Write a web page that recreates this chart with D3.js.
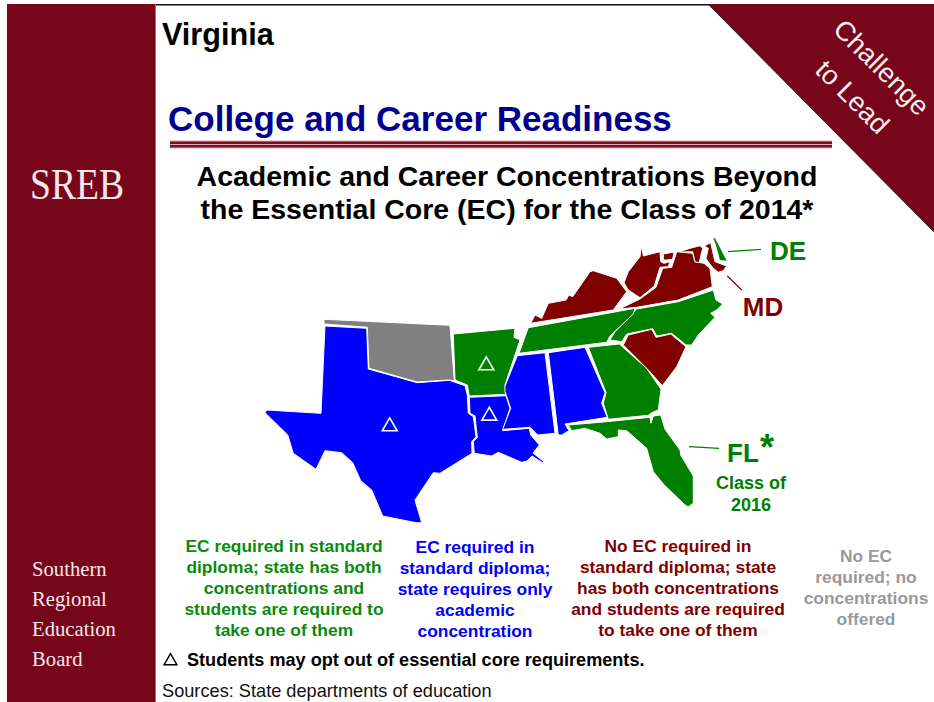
<!DOCTYPE html>
<html>
<head>
<meta charset="utf-8">
<title>Academic and Career Concentrations</title>
<script src="https://cdn.jsdelivr.net/npm/d3@7"></script>
<style>
    html, body { margin: 0; padding: 0; background: #fff; }
    svg { display: block; }
    text { font-family: "Liberation Sans", Arial, sans-serif; }
    .serif { font-family: "Liberation Serif", serif; }
</style>
</head>
<body>
<div id="slide"></div>
<script>
// State outlines, one ring per part
const texas = [[325,326],[366.7,328.3],[368.3,369],[417.3,382.7],[449.3,380.3],[465,385.7],[467.3,395],[468.3,413.3],[473.3,416.7],[476,436.7],[471.7,441.7],[472,453.3],[440,473.3],[433.3,472.7],[415,500],[421.7,522.7],[416,522.7],[382.7,516],[371.7,490],[360.7,480.7],[352.7,462.7],[341.7,452.7],[325,450.7],[316,469.3],[293.3,453.3],[287.7,435],[265,412.7],[266.7,410],[321,413.3]];
const oklahoma = [[324,319.3],[450,325.3],[454.3,380.7],[448.3,380],[417.3,382],[369,368.3],[367.3,327.3],[324,324]];
const arkansas = [[453.3,334],[515,328.3],[514,337.3],[520,340],[505,385],[506.7,394.3],[469.3,396],[467.3,385],[455,380]];
const louisiana = [[469.3,397.3],[506,395.7],[510,408.3],[502.7,430.7],[529.3,428.3],[530.7,435],[539.3,445],[533,453],[544.3,462],[543,463],[532,456],[527,461],[521.7,462.3],[498.3,452.3],[491.7,456],[474.3,453.3],[473.3,441.7],[477.3,437.3],[475,416],[470,413.3]];
const mississippi = [[517.3,355.7],[545,352.7],[555,433.3],[537.7,435],[530,427.3],[502.7,429.3],[510.7,408.3],[505,391.7],[505,386]];
const alabama = [[548.3,352.7],[585,347.3],[605,392.7],[601.7,403.3],[607.3,417.3],[565,424],[569,430.7],[561.7,435],[558.3,435]];
const georgia = [[588.3,347.3],[619.3,344],[646.7,368.3],[661,389.3],[658.3,410],[651.7,412.7],[648.3,415.3],[608.3,419.3],[603.3,403.3],[606,392.7]];
const florida = [[568.3,425],[606.7,421.7],[650,417.3],[651,423.3],[653.3,416],[660.7,415],[665,429.3],[680,450],[680.7,455],[693.3,476],[693.3,503.3],[688.3,506.7],[685,505],[663.3,484],[653.3,471.7],[646.7,448.3],[626.7,430.7],[618.3,430],[618.3,436.7],[606.7,439],[600,433.3],[585,428.3],[571.7,430.7]];
const southCarolina = [[623.3,345],[628.3,335],[651.7,329.3],[656,337.3],[670.7,334],[686,346.7],[676.7,366.7],[662.3,385.7],[648.3,370]];
const northCarolina = [[636.7,309],[678.3,301.7],[713.3,290],[716,300],[722.7,304],[716.7,310],[710.7,313.3],[715,317.3],[698.3,335],[691.7,345],[686,345],[671.7,333.3],[656.7,336],[652.7,328.7],[626.7,334],[621.7,341.7],[610,340],[615,331.7]];
const tennessee = [[528.3,327.7],[635,308.3],[633.3,314],[610,336],[606.7,342.3],[519,353.3]];
const kentucky = [[530.7,323.3],[535,315],[541.7,318.3],[548.3,303.3],[566,300],[569,295],[572.7,296.7],[590,271.7],[593.3,270.7],[616.7,278.3],[626.7,291.7],[613.3,310]];
const westVirginia = [[624,282.7],[628.3,271.7],[640,256.7],[641.7,245],[643.3,256],[660,251.7],[660.7,261.7],[664,263.3],[670,261.7],[668.3,266.7],[660,267.3],[654.3,286],[640,297.7],[628.3,290]];
const virginia = [[619.3,309],[640,299],[656,287.3],[662.7,268.3],[671.7,267.3],[676.7,251.7],[692.7,253.3],[695,261.7],[704,263.3],[710,268.3],[712.3,286.7],[678.3,300],[636.7,307.3]];
const marylandWest = [[663.3,254],[674,252],[672.7,259.3],[666.7,260],[663.3,260]];
const marylandCentral = [[678.3,250.7],[682.7,250.7],[690,248.3],[700,245.7],[702.7,248.3],[701,255],[699.3,262.7],[695,261.7],[692.7,251.7],[682.7,252]];
const marylandEast = [[704,246],[710.7,242.7],[715,261.7],[726.7,266],[723.3,270.7],[718.3,272.3],[713.3,268.3],[709.3,263.3],[706,258.3],[708.3,248.3]];
const delaware = [[713.3,238.3],[715,238.3],[726.7,260.7],[720,260],[716,245]];

// category: 0 green, 1 blue, 2 dark red, 3 gray
const stateNames = ['TX','OK','AR','LA','MS','AL','GA','FL','SC','NC','TN','KY','WV','VA','MD','DE'];
const stateCategory = [1,3,0,1,1,1,0,0,2,0,0,2,2,2,2,0];
const stateRings = [[texas],[oklahoma],[arkansas],[louisiana],[mississippi],[alabama],[georgia],[florida],[southCarolina],[northCarolina],[tennessee],[kentucky],[westVirginia],[virginia],[marylandWest,marylandCentral,marylandEast],[delaware]];
const categoryColors = ['#008000','#0000ff','#800000','#808080'];
const legendColors = ['#0a8a0a','#0000ff','#800000','#999999'];

const optOutPoints = [[389.7,426.5],[486.3,365.5],[489.3,415.8]];

const legendLines = [
    ['EC required in standard','diploma; state has both','concentrations and','students are required to','take one of them'],
    ['EC required in','standard diploma;','state requires only','academic','concentration'],
    ['No EC required in','standard diploma; state','has both concentrations','and students are required','to take one of them'],
    ['No EC','required; no','concentrations','offered']
];
const legendCenters = [284, 475, 678, 866];
const legendTops = [552, 553, 552, 562];

const titleLines = ['Academic and Career Concentrations Beyond','the Essential Core (EC) for the Class of 2014*'];
const boardLines = ['Southern','Regional','Education','Board'];

const width = 934, height = 702;
const maroon = '#78061a';

const svg = d3.select('#slide').append('svg')
    .attr('width', width)
    .attr('height', height)
    .attr('viewBox', `0 0 ${width} ${height}`);

// Slide frame
svg.append('rect').attr('x', 7).attr('y', 4).attr('width', 148).attr('height', 698).attr('fill', maroon);
svg.append('rect').attr('x', 155).attr('y', 4).attr('width', 1).attr('height', 698).attr('fill', '#b56a76');
svg.append('rect').attr('x', 156).attr('y', 4).attr('width', 778).attr('height', 1.5).attr('fill', '#111');

svg.append('path')
    .attr('d', d3.line()([[708,4],[934,4],[934,232]]) + 'Z')
    .attr('fill', maroon);
svg.append('path')
    .attr('d', d3.line()([[708,4],[934,232]]))
    .attr('stroke', '#222')
    .attr('fill', 'none');

svg.append('text')
    .attr('transform', 'translate(880,69) rotate(45)')
    .attr('text-anchor', 'middle').attr('dominant-baseline', 'middle')
    .attr('font-size', 27.2).attr('fill', '#fbeef0')
    .text('Challenge');
svg.append('text')
    .attr('transform', 'translate(851,98.5) rotate(45)')
    .attr('text-anchor', 'middle').attr('dominant-baseline', 'middle')
    .attr('font-size', 27.2).attr('fill', '#fbeef0')
    .text('to Lead');

// Sidebar
svg.append('text').attr('class', 'serif')
    .attr('x', 30).attr('y', 199)
    .attr('font-size', 44).attr('fill', '#f5e8ea')
    .attr('textLength', 94).attr('lengthAdjust', 'spacingAndGlyphs')
    .text('SREB');
svg.append('g').selectAll('text')
    .data(boardLines)
    .join('text')
    .attr('class', 'serif')
    .attr('x', 32)
    .attr('y', (d, i) => 576 + i * 30)
    .attr('font-size', 20.7)
    .attr('fill', '#f5e8ea')
    .text(d => d);

// Headings
svg.append('text').attr('x', 162).attr('y', 45)
    .attr('font-size', 30.6).attr('font-weight', 'bold').attr('fill', '#000')
    .text('Virginia');
svg.append('text').attr('x', 168).attr('y', 131)
    .attr('font-size', 35).attr('font-weight', 'bold').attr('fill', '#00008f')
    .text('College and Career Readiness');

svg.append('rect').attr('x', 170).attr('y', 140.5).attr('width', 662).attr('height', 8).attr('fill', '#d4a9b0');
svg.append('rect').attr('x', 170).attr('y', 141.5).attr('width', 662).attr('height', 2.5).attr('fill', '#7d1020');
svg.append('rect').attr('x', 170).attr('y', 145).attr('width', 662).attr('height', 2.5).attr('fill', '#7d1020');

svg.append('g').selectAll('text')
    .data(titleLines)
    .join('text')
    .attr('x', 507)
    .attr('y', (d, i) => 186 + i * 33)
    .attr('text-anchor', 'middle')
    .attr('font-size', 28.5)
    .attr('font-weight', 'bold')
    .attr('fill', '#000')
    .text(d => d);

// Map
const features = stateNames.map((name, i) => ({
    type: 'Feature',
    properties: { name: name, category: stateCategory[i] },
    geometry: { type: 'MultiPolygon', coordinates: stateRings[i].map(ring => [ring.concat([ring[0]])]) }
}));
const collection = { type: 'FeatureCollection', features: features };
const projection = d3.geoIdentity().fitExtent([[265, 238.3], [726.7, 522.7]], collection);
const path = d3.geoPath(projection);

// thin white edge widens the gaps left by the traced outlines; DE is too narrow for it
svg.append('g').attr('class', 'states').selectAll('path')
    .data(features)
    .join('path')
    .attr('d', path)
    .attr('fill', d => categoryColors[d.properties.category])
    .attr('stroke', d => d.properties.name === 'DE' ? 'none' : '#fff')
    .attr('stroke-width', 1)
    .attr('stroke-linejoin', 'round');

const triangle = d3.symbol().type(d3.symbolTriangle).size(95);
svg.append('g').selectAll('path')
    .data(optOutPoints)
    .join('path')
    .attr('transform', d => `translate(${projection(d)})`)
    .attr('d', triangle)
    .attr('fill', 'none')
    .attr('stroke', '#fff')
    .attr('stroke-width', 1.6);

// Leader lines and state labels
const leaders = [
    { from: [728,251.7], to: [761,249.3], color: categoryColors[0] },
    { from: [727.3,276], to: [741.7,290], color: categoryColors[2] },
    { from: [689,446.7], to: [719,448.3], color: categoryColors[0] }
];
svg.append('g').selectAll('line')
    .data(leaders)
    .join('line')
    .attr('x1', d => d.from[0]).attr('y1', d => d.from[1])
    .attr('x2', d => d.to[0]).attr('y2', d => d.to[1])
    .attr('stroke', d => d.color)
    .attr('stroke-width', 1.2);

const labels = [
    { text: 'DE', x: 788, y: 260, size: 26, color: categoryColors[0] },
    { text: 'MD', x: 763, y: 316, size: 26, color: categoryColors[2] },
    { text: 'FL', x: 743, y: 462, size: 26, color: categoryColors[0] },
    { text: '*', x: 767, y: 460, size: 36, color: categoryColors[0] },
    { text: 'Class of', x: 751, y: 489, size: 18, color: categoryColors[0] },
    { text: '2016', x: 751, y: 511, size: 18, color: categoryColors[0] }
];
svg.append('g').selectAll('text')
    .data(labels)
    .join('text')
    .attr('x', d => d.x).attr('y', d => d.y)
    .attr('text-anchor', 'middle')
    .attr('font-size', d => d.size)
    .attr('font-weight', 'bold')
    .attr('fill', d => d.color)
    .text(d => d.text);

// Legend blocks
legendLines.forEach(function (lines, c) {
    svg.append('g').selectAll('text')
        .data(lines)
        .join('text')
        .attr('x', legendCenters[c])
        .attr('y', (d, i) => legendTops[c] + i * 21)
        .attr('text-anchor', 'middle')
        .attr('font-size', 17.4)
        .attr('font-weight', 'bold')
        .attr('fill', legendColors[c])
        .text(d => d);
});

// Footer
svg.append('path')
    .attr('transform', 'translate(170.5,661)')
    .attr('d', d3.symbol().type(d3.symbolTriangle).size(70))
    .attr('fill', 'none')
    .attr('stroke', '#000')
    .attr('stroke-width', 1.5);
svg.append('text').attr('x', 187).attr('y', 666)
    .attr('font-size', 18.1).attr('font-weight', 'bold').attr('fill', '#000')
    .text('Students may opt out of essential core requirements.');
svg.append('text').attr('x', 162).attr('y', 697)
    .attr('font-size', 18.2).attr('fill', '#111')
    .text('Sources: State departments of education');
</script>
</body>
</html>
